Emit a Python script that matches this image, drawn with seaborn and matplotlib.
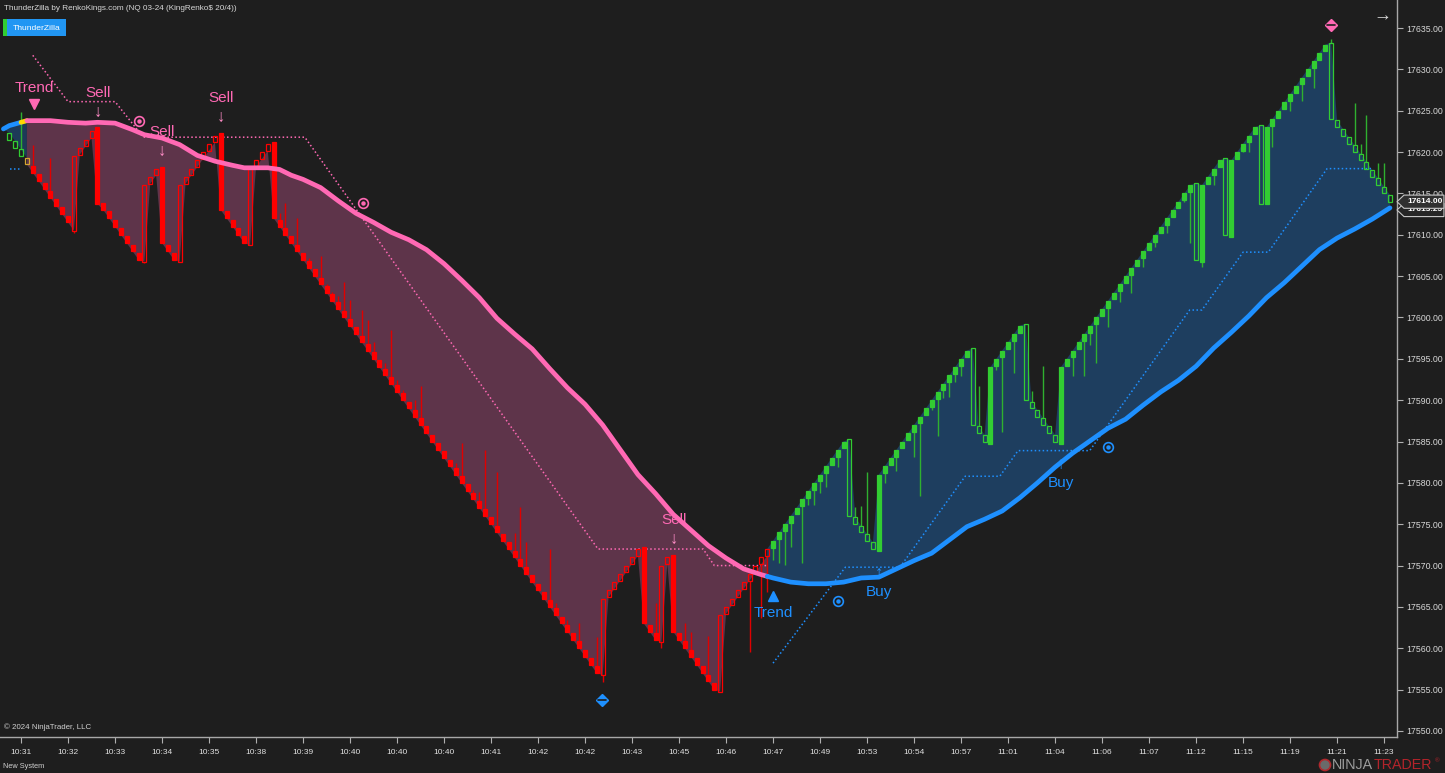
import numpy as np
import pandas as pd
import matplotlib
matplotlib.use("Agg")
import matplotlib.pyplot as plt
import matplotlib.transforms as mtrans
from matplotlib.patches import Rectangle, Polygon, Circle
import seaborn as sns

BG = "#1e1e1e"

# renko brick closes, bar 1 .. bar 236
brick_close = [
    17621.5, 17620.5, 17619.5, 17618.5,
    17617.5, 17616.5, 17615.5, 17614.5, 17613.5, 17612.5, 17611.5,
    17619.5, 17620.5, 17621.5, 17622.5,
    17613.75, 17613, 17612, 17611, 17610, 17609, 17608, 17607,
    17616, 17617, 17618,
    17609, 17608, 17607,
    17616, 17617, 17618, 17619, 17620, 17621, 17622,
    17613, 17612, 17611, 17610, 17609,
    17618, 17619, 17620, 17621,
    17612,
    17611, 17610, 17609, 17608, 17607, 17606, 17605, 17604, 17603, 17602,
    17601, 17600, 17599, 17598, 17597, 17596, 17595, 17594, 17593, 17592,
    17591, 17590, 17589, 17588, 17587, 17586, 17585, 17584, 17583, 17582,
    17581, 17580, 17579, 17578, 17577, 17576, 17575, 17574, 17573, 17572,
    17571, 17570, 17569, 17568, 17567, 17566, 17565, 17564, 17563, 17562,
    17561, 17560, 17559, 17558, 17557,
    17566, 17567, 17568, 17569, 17570, 17571, 17572,
    17563, 17562, 17561,
    17570, 17571,
    17562, 17561, 17560, 17559, 17558, 17557, 17556, 17555,
    17564, 17565, 17566, 17567, 17568, 17569, 17570, 17571, 17572,
    17573, 17574, 17575, 17576, 17577, 17578, 17579, 17580, 17581, 17582,
    17583, 17584, 17585,
    17576, 17575, 17574, 17573, 17572,
    17581, 17582, 17583, 17584, 17585, 17586, 17587, 17588, 17589, 17590,
    17591, 17592, 17593, 17594, 17595, 17596,
    17587, 17586, 17585,
    17594, 17595, 17596, 17597, 17598, 17599,
    17590, 17589, 17588, 17587, 17586, 17585,
    17594, 17595, 17596, 17597, 17598, 17599, 17600, 17601, 17602, 17603,
    17604, 17605, 17606, 17607, 17608, 17609, 17610, 17611, 17612, 17613,
    17614, 17615, 17616,
    17607, 17616, 17617, 17618, 17619,
    17610, 17619, 17620, 17621, 17622, 17623,
    17613.75, 17623, 17624, 17625, 17626, 17627, 17628, 17629, 17630, 17631,
    17632, 17633,
    17624, 17623, 17622, 17621, 17620, 17619, 17618, 17617, 17616, 17615,
    17614,
]

# tall reversal bars: bar number and open
tall_idx = [12, 16, 24, 27, 30, 37, 42, 46, 102, 109, 112, 114, 122, 144, 149,
            165, 168, 174, 180, 203, 204, 208, 209, 214, 215, 226]
tall_open = [17610.5, 17623.0, 17606.75, 17618.25, 17606.75, 17622.25, 17608.75,
             17621.25, 17556.75, 17572.25, 17560.75, 17571.25, 17554.75, 17585.25,
             17571.75, 17596.25, 17584.75, 17599.25, 17584.75, 17616.25, 17606.75,
             17619.25, 17609.75, 17623.25, 17613.75, 17633.25]

# wick tips
wick_idx = [3, 5, 8, 12, 24, 47, 48, 50, 52, 54, 55, 56, 57, 58, 59, 61, 62, 63, 65,
            66, 67, 68, 70, 71, 77, 78, 80, 81, 82, 84, 87, 88, 89, 93, 94, 96, 98,
            101, 102, 111, 112, 116, 117, 120, 127, 129, 130,
            131, 132, 133, 134, 136, 137, 138, 139, 140, 142, 145, 146, 147, 150, 152,
            155, 156, 158, 159, 160, 161, 162, 163, 166, 169, 170, 172, 175, 177, 182,
            184, 185, 186, 188, 190, 192, 194, 196, 198, 201, 202, 204, 206, 211, 212,
            216, 219, 221, 223, 226, 230, 231, 232, 234, 235]
wick_tip = [17624.8, 17620.9, 17619.3, 17610.2, 17606.6, 17612.6, 17613.8, 17612.0,
            17607.2, 17607.4, 17604.0, 17603.1, 17602.6, 17604.3, 17602.1, 17600.9,
            17599.7, 17597.0, 17594.5, 17598.5, 17592.4, 17591.2, 17590.0, 17591.7,
            17582.4, 17584.8, 17579.1, 17578.9, 17584.0, 17581.3, 17573.9, 17577.1,
            17572.9, 17572.0, 17565.5, 17563.4, 17563.1, 17561.4, 17555.9, 17565.5,
            17560.0, 17563.1, 17562.0, 17561.5, 17559.5, 17563.7, 17566.8,
            17570.7, 17570.3, 17570.1, 17572.2, 17570.3, 17577.3, 17577.3, 17578.8,
            17579.5, 17581.9, 17577.1, 17577.2, 17581.3, 17580.0, 17581.4, 17583.1,
            17578.4, 17588.8, 17585.7, 17590.3, 17590.4, 17592.2, 17592.9, 17591.7,
            17593.6, 17586.2, 17593.3, 17591.1, 17594.1, 17592.9, 17592.9, 17596.7,
            17594.5, 17598.8, 17601.9, 17603.0, 17606.1, 17608.5, 17610.2, 17614.0,
            17609.0, 17606.1, 17616.0, 17620.0, 17620.0, 17620.6, 17625.0, 17626.2,
            17627.7, 17633.7, 17625.9, 17621.0, 17624.5, 17618.7, 17618.7]

trend_start = [1, 4, 5, 131]
trend_kind = ["up", "flip", "down", "up"]

# trend average
ma_idx = [0, 1, 2, 3, 4, 8, 11, 14, 16, 19, 22, 24, 27, 30, 33, 36, 39, 41, 45, 47,
          49, 51, 54, 57, 60, 63, 66, 69, 72, 75, 78, 81, 84, 87, 90, 93, 96, 99,
          102, 105, 108, 111, 114, 117, 120, 123, 126, 129, 130, 131, 134, 137, 140,
          143, 146, 149, 152, 155, 158, 161, 164, 167, 170, 173, 176, 179, 182, 185,
          188, 191, 194, 197, 200, 203, 206, 209, 212, 215, 218, 221, 224, 227, 230,
          233, 236]
ma_val = [17622.8, 17623.2, 17623.4, 17623.6, 17623.8, 17623.8, 17623.6, 17623.5,
          17623.6, 17623.5, 17622.7, 17622.1, 17621.7, 17620.9, 17619.6, 17618.9,
          17618.4, 17618.1, 17618.1, 17617.9, 17617.2, 17616.7, 17615.7, 17614.1,
          17612.6, 17611.5, 17610.3, 17609.4, 17608.2, 17606.5, 17604.5, 17602.4,
          17599.9, 17598.0, 17596.2, 17593.8, 17591.5, 17589.5, 17587.0, 17584.0,
          17581.0, 17578.7, 17576.2, 17574.3, 17572.4, 17570.9, 17569.6, 17568.9,
          17568.7, 17568.5, 17568.0, 17567.8, 17567.8, 17568.0, 17568.5, 17568.6,
          17569.6, 17570.6, 17571.5, 17573.1, 17574.7, 17575.6, 17576.6, 17578.2,
          17580.0, 17581.9, 17583.6, 17585.1, 17586.6, 17587.7, 17589.4, 17591.0,
          17592.4, 17594.1, 17596.3, 17598.2, 17600.2, 17602.4, 17604.2, 17606.2,
          17608.2, 17609.6, 17610.7, 17611.9, 17613.25]

# trailing stops
stop_down_idx = [5.0, 11.0, 19.0, 23.8, 51.3, 101.2, 119.1, 121.0, 130.0]
stop_down = [17631.7, 17626.1, 17626.1, 17621.8, 17621.8, 17572.0, 17572.0, 17570.0, 17570.0]
stop_up_idx = [131.0, 143.3, 152.6, 163.7, 169.6, 172.7, 184.9, 201.9, 204.0, 211.0,
               215.3, 225.3, 233.0]
stop_up = [17558.2, 17569.8, 17569.8, 17580.8, 17580.8, 17583.9, 17583.9, 17600.9,
           17600.9, 17607.9, 17607.9, 17618.0, 17618.0]
stop_lead_idx = [1.1, 2.8]
stop_lead = [17618.0, 17618.0]

# last price / last average on the price scale
price_marks = [17613.25, 17614.0]

time_labels = ["10:31", "10:32", "10:33", "10:34", "10:35", "10:38", "10:39", "10:40",
               "10:40", "10:40", "10:41", "10:42", "10:42", "10:43", "10:45", "10:46",
               "10:47", "10:49", "10:53", "10:54", "10:57", "11:01", "11:04", "11:06",
               "11:07", "11:12", "11:15", "11:19", "11:21", "11:23"]

PINK = "#ff69b4"
BLUE = "#1e90ff"
RED = "#ff0000"
GREEN = "#32cd32"
BODY = 0.82

sns.set_theme(style="dark", rc={"axes.facecolor": BG, "figure.facecolor": BG})
plt.rcParams["font.family"] = ["Liberation Sans", "DejaVu Sans"]

fig = plt.figure(figsize=(14.45, 7.73), dpi=100)
ax = fig.add_axes([0, 36 / 773, 1397 / 1445, 737 / 773])
ax.set_facecolor(BG)
ax.grid(False)

bars = pd.DataFrame({"idx": np.arange(1, len(brick_close) + 1), "close": brick_close})
tall = dict(zip(tall_idx, tall_open))
opens, kinds = [], []
prev = 17622.5
for i, c in zip(bars["idx"], bars["close"]):
    if i in tall:
        o = tall[i]
    elif c < prev:
        o = c + BODY
    else:
        o = c - BODY
    opens.append(o)
    prev = c
    k = max(j for j, s in enumerate(trend_start) if i >= s)
    kinds.append(trend_kind[k])
bars["open"] = opens
bars["kind"] = kinds
bars["lo"] = bars[["open", "close"]].min(axis=1)
bars["hi"] = bars[["open", "close"]].max(axis=1)

ma = pd.DataFrame({"idx": ma_idx, "val": ma_val})

# shaded regions between average and bricks
def shade(lo_i, hi_i, edge, color):
    m = ma[(ma.idx >= lo_i) & (ma.idx <= hi_i)]
    b = bars[(bars.idx >= max(lo_i, 1)) & (bars.idx <= hi_i)]
    xs = list(m.idx) + list(b.idx[::-1])
    ys = list(m.val) + list(b[edge][::-1])
    ax.fill(xs, ys, color=color, lw=0, zorder=1)

shade(0, 4, "hi", "#1d3a58")
shade(4, 130, "lo", "#5e344a")
shade(130, 236, "hi", "#1e3e5f")

# trailing stops
ax.plot(stop_down_idx, stop_down, color=PINK, lw=1.1, ls=(0, (1, 1.6)), zorder=2)
ax.plot(stop_up_idx, stop_up, color=BLUE, lw=1.1, ls=(0, (1, 1.6)), zorder=2)
ax.plot(stop_lead_idx, stop_lead, color=BLUE, lw=1.1, ls=(0, (1, 1.6)), zorder=2)

# wicks
for wi, tip in zip(wick_idx, wick_tip):
    r = bars[bars.idx == wi].iloc[0]
    base = r.hi if tip > r.hi else r.lo
    col = "#e00000" if r.kind == "down" else "#2fb02f"
    ax.plot([wi, wi], [base, tip], color=col, lw=1.0, zorder=3, solid_capstyle="butt")

# bricks
for _, r in bars.iterrows():
    if r.kind == "down":
        col = RED
        filled = r.close < r.open
    elif r.kind == "up":
        col = GREEN
        filled = r.close > r.open
    else:
        col = "#d6a531"
        filled = False
    ax.add_patch(Rectangle((r.idx - 0.34, r.lo), 0.68, r.hi - r.lo,
                           facecolor=col if filled else "none", edgecolor=col,
                           lw=0.9, zorder=4))

# trend average line
seg_lead = ma[ma.idx <= 3]
seg_flip = ma[(ma.idx >= 3) & (ma.idx <= 4)]
seg_down = ma[(ma.idx >= 4) & (ma.idx <= 130)]
seg_up = ma[ma.idx >= 130]
sns.lineplot(x=seg_lead.idx, y=seg_lead.val, ax=ax, color=BLUE, lw=3.4, zorder=5)
sns.lineplot(x=seg_flip.idx, y=seg_flip.val, ax=ax, color="#ffd700", lw=3.4, zorder=5)
sns.lineplot(x=seg_down.idx, y=seg_down.val, ax=ax, color=PINK, lw=3.4, zorder=5,
             solid_capstyle="round")
sns.lineplot(x=seg_up.idx, y=seg_up.val, ax=ax, color=BLUE, lw=3.4, zorder=5,
             solid_capstyle="round")
ax.set_xlabel("")
ax.set_ylabel("")

# signal labels
def label(x, y, s, col):
    ax.text(x, y, s, color=col, fontsize=11, ha="center", va="center", zorder=6)

def arrow(x, y, s, col):
    ax.text(x, y, s, color=col, fontsize=12, ha="center", va="center", zorder=6)

label(5.2, 17627.7, "Trend", PINK)
ax.plot([5.2], [17625.8], marker="v", ms=7.5, color=PINK, zorder=6)
for xs, ys in [(16.1, 17627.1), (27.0, 17622.4), (37.1, 17626.5), (114.2, 17575.5)]:
    label(xs, ys, "Sell", PINK)
    arrow(xs, ys - 2.3, "↓", "#ff8cc6")
label(131.0, 17564.3, "Trend", BLUE)
ax.plot([131.0], [17566.3], marker="^", ms=7.5, color=BLUE, zorder=6)
for xs, ys in [(149.0, 17566.8), (180.0, 17580.0)]:
    label(xs, ys, "Buy", BLUE)
    arrow(xs, ys + 2.2, "↑", BLUE)

for xs, ys, col in [(23.1, 17623.8, PINK), (61.2, 17613.8, PINK),
                    (142.1, 17565.7, BLUE), (188.0, 17584.3, BLUE)]:
    ax.plot([xs], [ys], marker="o", ms=7, mfc="none", mec=col, mew=1.2, zorder=6)
    ax.plot([xs], [ys], marker="o", ms=2.2, color=col, zorder=6)

for xs, ys, col in [(101.9, 17553.7, BLUE), (226.0, 17635.4, PINK)]:
    ax.plot([xs], [ys], marker="D", ms=6, color=col, zorder=6)
    ax.plot([xs - 0.7, xs + 0.7], [ys, ys], color=BG, lw=1.2, zorder=7)

# axes
ax.set_xlim(-0.58, 237.2)
ax.set_ylim(17549.27, 17638.39)
ax.set_xticks([3 + 8 * k for k in range(len(time_labels))])
ax.set_xticklabels(time_labels)
ax.set_yticks(np.arange(17550, 17636, 5))
ax.yaxis.set_major_formatter(matplotlib.ticker.FormatStrFormatter("%.2f"))
ax.yaxis.tick_right()
ax.tick_params(axis="y", right=True, left=False, labelright=True, labelleft=False,
               colors="#b0b0b0", labelcolor="#d8d8d8", length=4, width=0.8,
               labelsize=6.3, pad=3, direction="out")
ax.tick_params(axis="x", bottom=True, colors="#b0b0b0", labelcolor="#e0e0e0",
               length=4, width=0.8, labelsize=6, pad=5, direction="out")
for side in ["top", "left"]:
    ax.spines[side].set_visible(False)
for side in ["right", "bottom"]:
    ax.spines[side].set_visible(True)
    ax.spines[side].set_color("#a8a8a8")
    ax.spines[side].set_linewidth(1.0)

# price markers on the axis
tr = mtrans.blended_transform_factory(ax.transAxes, ax.transData)
for n, (price, face) in enumerate(zip(price_marks, ["#262626", "#303030"])):
    h = 0.8
    dy = -0.25 if n == 0 else 0.0
    ax.add_patch(Polygon([(1.0, price + dy), (1.005, price + dy - h), (1.0336, price + dy - h),
                          (1.0336, price + dy + h), (1.005, price + dy + h)], closed=True,
                         transform=tr, facecolor=face, edgecolor="#c8c8c8", lw=0.8,
                         clip_on=False, zorder=8 + 2 * n))
    ax.text(1.0074, price + dy, f"{price:.2f}", transform=tr, color="white", fontsize=6.0,
            fontweight="bold", va="center", ha="left", clip_on=False, zorder=9 + 2 * n)

# overlay in pixel units for the chart furniture
ov = fig.add_axes([0, 0, 1, 1], zorder=10)
ov.set_xlim(0, 1445)
ov.set_ylim(773, 0)
ov.axis("off")
ov.patch.set_alpha(0)
ov.text(4, 8, "ThunderZilla by RenkoKings.com (NQ 03-24 (KingRenko\\$ 20/4))",
        color="#d8d8d8", fontsize=5.9, va="center", ha="left")
ov.add_patch(Rectangle((3, 19), 4, 17, facecolor=GREEN, lw=0))
ov.add_patch(Rectangle((7, 19), 59, 17, facecolor="#2196f3", lw=0))
ov.text(36.5, 28, "ThunderZilla", color="white", fontsize=6.1, ha="center", va="center")
ov.text(4, 727, "© 2024 NinjaTrader, LLC", color="#d0d0d0", fontsize=5.7, va="center")
ov.text(3, 766, "New System", color="#d0d0d0", fontsize=5.3, va="center")
ov.text(1382, 16, "→", color="#d8d8d8", fontsize=13, ha="center", va="center")
ov.add_patch(Circle((1325, 765), 5.5, facecolor="#6a6a6a", edgecolor="#b0282d", lw=1.2))
ov.text(1332, 765, "NINJA", color="#9c9c9c", fontsize=10.3, va="center", ha="left")
ov.text(1374, 765, "TRADER", color="#b3242b", fontsize=10.3, va="center", ha="left")
ov.text(1435, 761, "®", color="#b3242b", fontsize=4.5, va="center", ha="left")

fig.savefig("out.png", dpi=100, facecolor=BG)
